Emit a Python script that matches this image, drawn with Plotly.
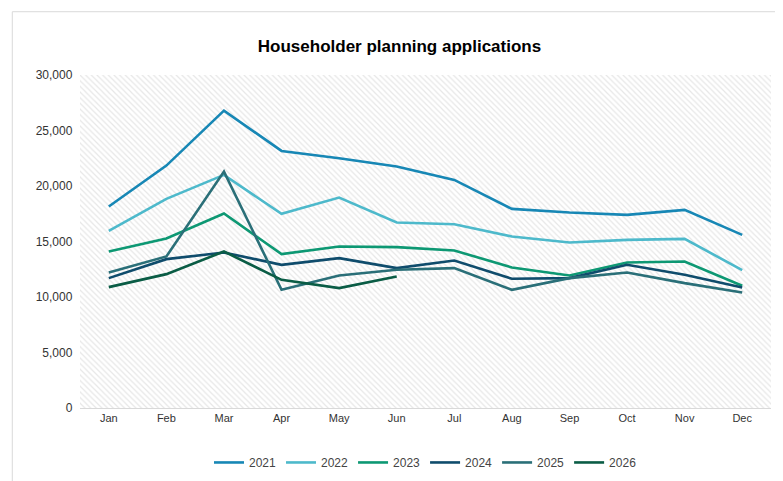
import plotly.graph_objects as go

months = ["Jan","Feb","Mar","Apr","May","Jun","Jul","Aug","Sep","Oct","Nov","Dec"]
y2021 = [18150,21840,26790,23160,22500,21750,20550,17940,17610,17400,17850,15600]
y2022 = [15960,18840,21000,17490,18960,16710,16560,15450,14910,15150,15240,12420]
y2023 = [14100,15270,17520,13860,14550,14490,14190,12660,11940,13110,13200,11010]
y2024 = [11700,13410,14010,12900,13500,12600,13290,11640,11700,12900,12000,10860]
y2025 = [12210,13650,21300,10650,11940,12450,12600,10650,11700,12210,11250,10410]
y2026 = [10890,12060,14100,11550,10800,11850]

series = [("2021",y2021,"#1787b5"),("2022",y2022,"#4db9cb"),("2023",y2023,"#0d9873"),
          ("2024",y2024,"#0f4c6c"),("2025",y2025,"#2a6f78"),("2026",y2026,"#0a5c45")]

fig = go.Figure()
# hatched plot background
fig.add_trace(go.Bar(x=months, y=[30000]*12, width=1, showlegend=False, hoverinfo="skip",
                     marker=dict(color="white", line=dict(width=0),
                                 pattern=dict(shape="\\", fgcolor="#cfcfcf", size=4, solidity=0.3))))
for name, ys, c in series:
    fig.add_trace(go.Scatter(x=months[:len(ys)], y=ys, name=name, mode="lines",
                             line=dict(color=c, width=2.6)))

fig.update_layout(
    width=783, height=481, paper_bgcolor="white", plot_bgcolor="white",
    margin=dict(l=72, r=20, t=67, b=81),
    title=dict(text="<b>Householder planning applications</b>", x=0.5, y=1-38/481,
               xanchor="center", yanchor="middle",
               font=dict(family="Liberation Sans, Arial", size=17, color="black")),
    font=dict(family="Liberation Sans, Arial", size=11, color="#333"),
    bargap=0,
    legend=dict(orientation="h", x=0.5, xanchor="center", y=-0.12, yanchor="top",
                font=dict(size=12, color="#444"), traceorder="normal"),
    shapes=[dict(type="rect", xref="paper", yref="paper", x0=-0.098, x1=1.022, y0=-0.235, y1=1.19,
                 line=dict(color="#d9d9d9", width=1))],
)
fig.update_xaxes(showgrid=True, gridcolor="#e3e3e3", showline=True, linecolor="#d9d9d9",
                 ticks="", tickfont=dict(size=11, color="#333"), layer="above traces")
fig.update_yaxes(range=[0,30000], dtick=5000, tickformat=",", showgrid=True, gridcolor="#e3e3e3",
                 zeroline=False, tickfont=dict(size=12, color="#333"), ticksuffix="  ")
fig.write_html("out.html")
